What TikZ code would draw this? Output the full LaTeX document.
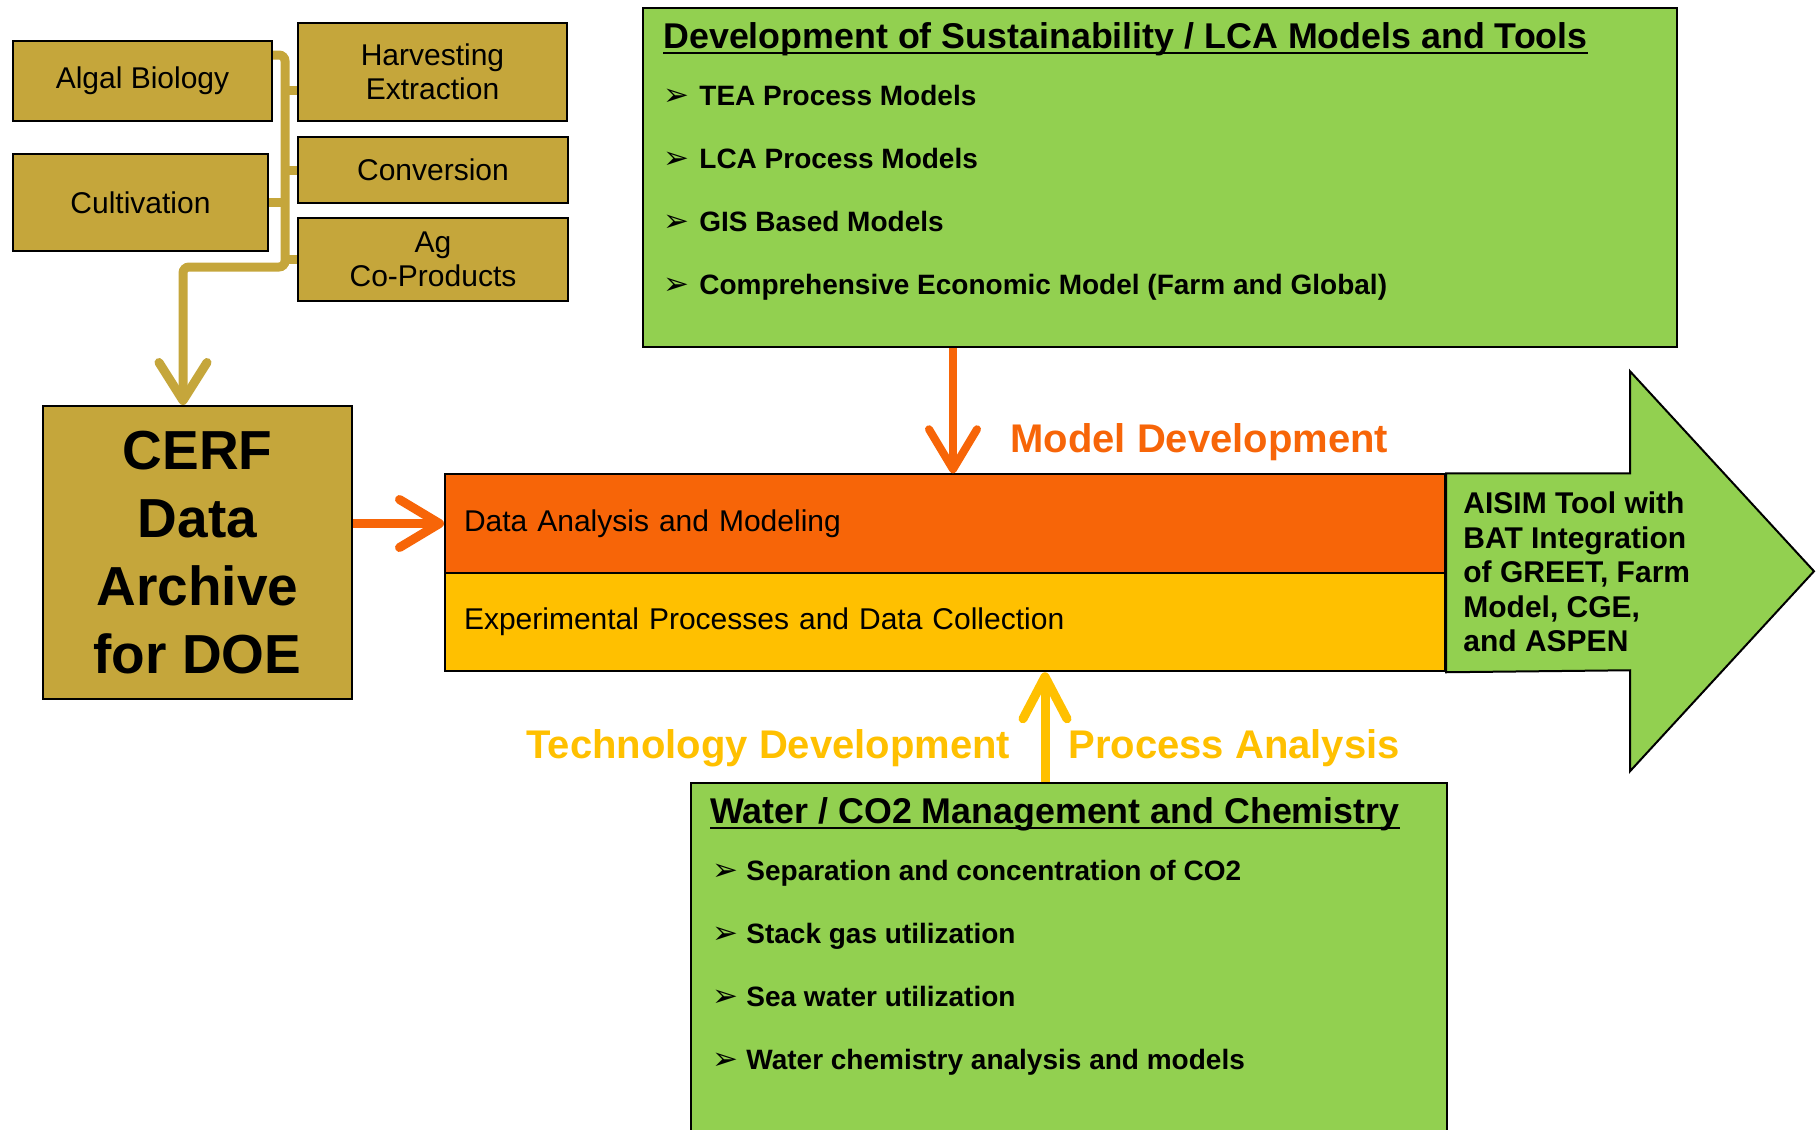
\documentclass[tikz,border=0pt]{standalone}
\usepackage{fontspec}
\setmainfont{Liberation Sans}
\newfontfamily\arrowfont{DejaVu Sans}
\usetikzlibrary{arrows.meta}
\usetikzlibrary{positioning}
\definecolor{gold}{RGB}{197,166,59}
\definecolor{leafgreen}{RGB}{146,208,80}
\definecolor{hotorange}{RGB}{247,101,8}
\definecolor{amber}{RGB}{255,192,0}

\begin{document}
\begin{tikzpicture}[
    x=0.5pt, y=-0.5pt,
    % box styles
    gold box/.style={
        rectangle,
        draw=black,
        fill=gold,
        line width=1pt,
        inner sep=0pt,
        align=center,
        font=\fontsize{15}{17}\selectfont
    },
    green panel/.style={
        rectangle,
        draw=black,
        fill=leafgreen,
        line width=1pt,
        inner sep=0pt
    },
    stage box/.style={
        rectangle,
        draw=black,
        line width=1pt,
        minimum width=500pt,
        minimum height=49.25pt,
        text width=481pt,
        inner xsep=9.5pt,
        align=left,
        font=\fontsize{15}{18}\selectfont
    },
    % edge styles
    bus line/.style={draw=gold, line width=4.5pt, rounded corners=3pt},
    bus arrow/.style={bus line, -{Straight Barb[length=19pt, width=24pt, round]}},
    orange edge/.style={draw=hotorange, line width=4.5pt, -{Straight Barb[length=20pt, width=24pt, round]}},
    amber edge/.style={draw=amber, line width=4.5pt, -{Straight Barb[length=21pt, width=22pt, round]}},
    % label styles
    panel title/.style={anchor=base west, inner sep=0pt, font=\fontsize{17.9}{21}\selectfont\bfseries},
    item label/.style={anchor=base west, inner sep=0pt, font=\fontsize{14}{17}\selectfont\bfseries},
    item mark/.style={anchor=base west, inner sep=0pt, font=\arrowfont\fontsize{15.5}{17}\selectfont},
    flow label/.style={anchor=base west, inner sep=0pt, font=\fontsize{20}{24}\selectfont\bfseries}
]
\clip (0,0) rectangle (1816,1130);

% -------------------------------
% Research areas (top left)
\node[gold box, minimum width=129.5pt, minimum height=40pt] (algal) at (142.5,81) {Algal Biology};
\node[gold box, minimum width=127.5pt, minimum height=48.5pt] (cultivation) at (140.5,202.5) {Cultivation};
\node[gold box, minimum width=134.5pt, minimum height=49pt] (harvest) at (432.5,72) {Harvesting\\Extraction};
\node[gold box, minimum width=135pt, minimum height=33pt] (conversion) at (433,170) {Conversion};
\node[gold box, minimum width=135pt, minimum height=41.5pt] (agco) at (433,259.5) {Ag\\Co-Products};

% Data archive
\node[gold box, minimum width=154.5pt, minimum height=146.5pt,
      font=\fontsize{27.5}{34}\selectfont\bfseries] (cerf) at (197.5,552.5) {CERF\\Data\\Archive\\for DOE};

% -------------------------------
% Collecting bus into the archive
\coordinate (bus top) at (285,55);
\coordinate (bus foot) at (285,267);
\coordinate (bus turn) at (183,267);
\coordinate (harvest tap) at ([yshift=-9pt]harvest.west);
\draw[bus line] (harvest tap) -- (harvest tap -| bus top);
\foreach \area in {conversion, agco}
    \draw[bus line] (\area.west) -- (\area.west -| bus top);
\draw[bus line] (cultivation.east) -- (cultivation.east -| bus top);
\draw[bus arrow] (algal.east |- bus top) -- (bus top) -- (bus foot) -- (bus turn) -- (bus turn |- cerf.north);

% -------------------------------
% Central stages
\node[stage box, fill=hotorange] (dataan) at (945,523.5) {Data Analysis and Modeling};
\node[stage box, fill=amber] (exper) at (945,622) {Experimental Processes and Data Collection};

% Output arrow
\filldraw[fill=leafgreen, draw=black, line width=1pt] (dataan.north east) -- ++(184,0) -- ++(0,-102)
    -- ++(184,200) -- ++(-184,200) -- ++(0,-101) -- (exper.south east) -- cycle;
\node[anchor=west, align=left, inner sep=0pt, font=\fontsize{15}{17.25}\selectfont\bfseries] (aisim)
    at (1463,572) {AISIM Tool with\\BAT Integration\\of GREET, Farm\\Model, CGE,\\and ASPEN};

% -------------------------------
% Sustainability / LCA panel
\node[green panel, minimum width=517pt, minimum height=169.5pt] (sustain) at (1160,177.5) {};
\node[panel title] (sustain title) at (663,48) {Development of Sustainability / LCA Models and Tools};
\draw[line width=1pt] ([yshift=-2.5pt]sustain title.base west) -- ([yshift=-2.5pt]sustain title.base east);
\foreach \txt [count=\k] in {TEA Process Models, LCA Process Models, GIS Based Models,
                             Comprehensive Economic Model (Farm and Global)}
{
    \node[item mark] (sustain mark-\k) at (663,42+63*\k) {➢};
    \node[item label] (sustain item-\k) at (699,42+63*\k) {\txt};
}

% Water / CO2 panel
\node[green panel, minimum width=378pt, minimum height=180pt] (water) at (1069,963) {};
\node[panel title] (water title) at (710,823) {Water / CO2 Management and Chemistry};
\draw[line width=1pt] ([yshift=-2.5pt]water title.base west) -- ([yshift=-2.5pt]water title.base east);
\foreach \txt [count=\k] in {Separation and concentration of CO2, Stack gas utilization,
                             Sea water utilization, Water chemistry analysis and models}
{
    \node[item mark] (water mark-\k) at (712,817+63*\k) {➢};
    \node[item label] (water item-\k) at (746,817+63*\k) {\txt};
}

% -------------------------------
% Flows into the stages
\coordinate (model drop) at (953,0);
\coordinate (tech rise) at (1045,0);
\draw[orange edge, line width=4pt] (sustain.south -| model drop) -- (dataan.north -| model drop);
\draw[amber edge] (water.north -| tech rise) -- (exper.south -| tech rise);
\draw[orange edge] (cerf.east |- dataan.west) -- (dataan.west);

\node[flow label, text=hotorange] (model dev) at (1010,452) {Model Development};
\node[flow label, text=amber] (tech dev) at (526,758) {Technology Development};
\node[flow label, text=amber] (proc an) at (1068,758) {Process Analysis};
\end{tikzpicture}
\end{document}
